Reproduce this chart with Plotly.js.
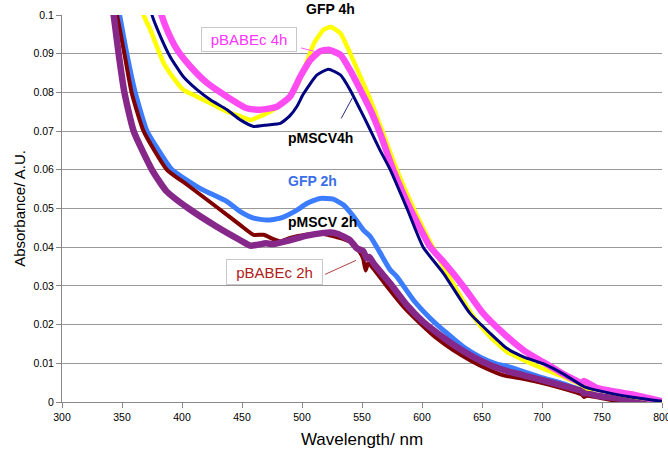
<!DOCTYPE html>
<html>
<head>
<meta charset="utf-8">
<script src="https://cdn.plot.ly/plotly-3.0.1.min.js"></script>
<style>html,body{margin:0;padding:0;background:#fff;}#chart{width:668px;height:451px;}</style>
</head>
<body>
<div id="chart"></div>
<script>
// ---- Data (wavelength nm, absorbance A.U.) ----
var gfp4hX = [366, 368, 373.6, 379, 384.7, 393, 401, 412.5, 423.6, 437.5, 448.6, 457, 465, 476, 487.5, 496, 502, 510, 518, 524, 532, 540, 548.6, 557, 565, 579, 593, 607, 621, 643, 657, 665, 671, 685, 701, 718, 732, 735, 737, 746, 774, 800];
var gfp4hY = [0.1045, 0.1, 0.0962, 0.0919, 0.0876, 0.0837, 0.0807, 0.0789, 0.0772, 0.075, 0.0738, 0.0729, 0.0738, 0.0755, 0.0781, 0.0818, 0.0862, 0.0927, 0.0962, 0.0969, 0.0953, 0.0902, 0.0841, 0.0781, 0.0716, 0.06, 0.05, 0.0412, 0.0332, 0.022, 0.0168, 0.0145, 0.0129, 0.0108, 0.0086, 0.0065, 0.0045, 0.0040, 0.0036, 0.0032, 0.0015, 0.0002];

var pbabec4hX = [380, 383, 387.5, 396, 407, 421, 437.5, 454, 465, 479, 490, 498.6, 507, 515, 522, 532, 540, 548.6, 557, 565, 576, 590, 607, 618, 634.7, 651, 668, 685, 701, 718, 733, 735, 746, 774, 800];
var pbabec4hY = [0.1045, 0.1, 0.0962, 0.091, 0.0867, 0.0824, 0.0789, 0.0759, 0.0755, 0.0763, 0.0789, 0.0841, 0.0884, 0.0906, 0.091, 0.0897, 0.0858, 0.0807, 0.0755, 0.0695, 0.06, 0.05, 0.04, 0.0362, 0.0298, 0.0229, 0.0177, 0.0133, 0.0103, 0.0072, 0.0050, 0.0054, 0.0036, 0.0020, 0.0002];

var pmscv4hX = [372, 375, 382, 390, 401, 412.5, 423.6, 437.5, 448.6, 459.7, 471, 482, 490, 496, 501, 512.5, 522, 532, 540, 548.6, 555.5, 565, 573.6, 587.5, 601, 618, 640, 657, 671, 685, 701, 718, 732, 735, 746, 774, 800];
var pmscv4hY = [0.1045, 0.1, 0.0945, 0.0893, 0.0841, 0.0807, 0.0781, 0.0755, 0.0729, 0.0712, 0.0716, 0.072, 0.0740, 0.0765, 0.0795, 0.0845, 0.086, 0.0845, 0.0807, 0.0755, 0.0712, 0.0651, 0.06, 0.05, 0.04, 0.0332, 0.0229, 0.0177, 0.0138, 0.0116, 0.0099, 0.0072, 0.0045, 0.0040, 0.0030, 0.0013, 0.0002];

var gfp2hX = [346, 348, 354, 361, 370.8, 382, 391.7, 415, 437.5, 448.6, 459.7, 470.8, 482, 495.8, 504, 515, 526, 534.7, 543, 551, 557, 565, 573.6, 579, 593, 607, 621, 634.7, 648.6, 662.5, 671, 685, 700, 715, 730, 735, 746, 774, 800];
var gfp2hY = [0.1035, 0.1, 0.09, 0.08, 0.07, 0.0643, 0.06, 0.0552, 0.0518, 0.0492, 0.0475, 0.047, 0.0475, 0.0496, 0.0513, 0.0526, 0.0524, 0.0509, 0.0479, 0.0445, 0.0427, 0.0386, 0.0341, 0.0324, 0.0263, 0.0216, 0.0177, 0.0142, 0.0116, 0.0098, 0.0092, 0.0078, 0.0063, 0.0050, 0.0034, 0.0030, 0.0016, 0.0007, 0.0];

var pbabec2hX = [342, 345.8, 352, 358, 368, 387.5, 404, 430.5, 448.6, 459.7, 468, 476, 482, 490, 504, 518, 524, 530, 540, 548, 551, 553, 555, 557, 571, 584.7, 598.6, 612.5, 626, 640, 654, 668, 682, 696, 712.5, 729, 733, 735, 737, 746, 760, 800];
var pbabec2hY = [0.1045, 0.1, 0.09, 0.08, 0.07, 0.06, 0.0562, 0.05, 0.0457, 0.0432, 0.0432, 0.0421, 0.0415, 0.0424, 0.0432, 0.0434, 0.0430, 0.0425, 0.0414, 0.0388, 0.0370, 0.0340, 0.0358, 0.0354, 0.0298, 0.0246, 0.0203, 0.0164, 0.0134, 0.0108, 0.0086, 0.0069, 0.0061, 0.0052, 0.0039, 0.0024, 0.0020, 0.0013, 0.0016, 0.0012, 0.0004, 0.0];

var pmscv2hX = [340, 343, 347.2, 352, 359.7, 375, 387, 405.5, 429, 448.6, 457, 462.5, 470, 476, 490, 504, 518, 524, 530, 534.7, 540, 545.8, 551, 554, 556, 559.7, 573.6, 587.5, 601, 615, 629, 643, 657, 671, 684.7, 698.6, 712.5, 729, 733, 735, 737, 746, 774, 800];
var pmscv2hY = [0.1045, 0.1, 0.09, 0.08, 0.07, 0.06, 0.0545, 0.05, 0.0453, 0.0418, 0.0404, 0.0406, 0.0410, 0.0408, 0.0418, 0.0430, 0.0437, 0.0438, 0.0434, 0.0427, 0.0418, 0.0397, 0.0390, 0.0371, 0.0375, 0.0358, 0.0306, 0.025, 0.0207, 0.0173, 0.0142, 0.0116, 0.0095, 0.008, 0.0069, 0.0058, 0.0046, 0.0032, 0.0030, 0.0022, 0.0024, 0.0016, 0.0006, 0.0];

var seriesNames = ['GFP 4h', 'pBABEc 4h', 'pMSCV4h', 'GFP 2h', 'pBABEc 2h', 'pMSCV 2h'];
var xTitle = 'Wavelength/ nm';
var yTitle = 'Absorbance/ A.U.';

var FONT = 'Liberation Sans, Arial, sans-serif';
function line(x, y, name, color, w) {
  return {x: x, y: y, name: name, type: 'scatter', mode: 'lines',
          line: {color: color, width: w, shape: 'spline', smoothing: 0.5}, hoverinfo: 'skip'};
}
var traces = [
  line(gfp2hX, gfp2hY, seriesNames[3], '#3c7cff', 5),
  line(pbabec2hX, pbabec2hY, seriesNames[4], '#800000', 4),
  line(pmscv2hX, pmscv2hY, seriesNames[5], '#86288a', 6.5),
  line(gfp4hX, gfp4hY, seriesNames[0], '#ffff00', 4.5),
  line(pbabec4hX, pbabec4hY, seriesNames[1], '#ff4cf2', 6.5),
  line(pmscv4hX, pmscv4hY, seriesNames[2], '#000080', 3)
];

var layout = {
  width: 668, height: 451,
  margin: {l: 62, r: 6, t: 15, b: 49},
  paper_bgcolor: '#fff', plot_bgcolor: '#fff',
  showlegend: false,
  font: {family: FONT, color: '#000', size: 11},
  xaxis: {
    range: [300, 800], dtick: 50, tick0: 300,
    showgrid: false, zeroline: false,
    showline: true, linecolor: '#888', linewidth: 1,
    ticks: 'outside', ticklen: 5, tickcolor: '#888',
    ticklabeloverflow: 'allow',
    tickfont: {size: 10.5, family: FONT, color: '#000'},
    title: {text: xTitle, font: {size: 17, family: FONT, color: '#000'}, standoff: 11}
  },
  yaxis: {
    range: [0, 0.1], dtick: 0.01, tick0: 0,
    showgrid: true, gridcolor: '#999', gridwidth: 1, zeroline: false,
    showline: true, linecolor: '#888', linewidth: 1,
    ticks: 'outside', ticklen: 5, tickcolor: '#888',
    ticklabeloverflow: 'allow',
    tickfont: {size: 10.5, family: FONT, color: '#000'},
    title: {text: yTitle, font: {size: 15, family: FONT, color: '#000'}, standoff: 4}
  },
  annotations: [
    {text: '<b>GFP 4h</b>', x: 524, y: 1.016, xref: 'x', yref: 'paper', yanchor: 'middle', showarrow: false,
     font: {size: 14, color: '#000', family: FONT}},
    {text: 'pBABEc 4h', x: 456, y: 0.0937, xref: 'x', yref: 'y', showarrow: false,
     font: {size: 15, color: '#ff33ff', family: FONT},
     bgcolor: '#fff', bordercolor: '#c8c8c8', borderwidth: 1, borderpad: 1, width: 92, height: 21},
    {text: '', x: 515, y: 0.0902, xref: 'x', yref: 'y', ax: 498, ay: 0.0916, axref: 'x', ayref: 'y',
     showarrow: true, arrowhead: 0, arrowwidth: 1, arrowcolor: '#ff55ff'},
    {text: '<b>pMSCV4h</b>', x: 515, y: 0.0682, xref: 'x', yref: 'y', showarrow: false,
     font: {size: 14, color: '#000', family: FONT}},
    {text: '', x: 542, y: 0.0786, xref: 'x', yref: 'y', ax: 532, ay: 0.0729, axref: 'x', ayref: 'y',
     showarrow: true, arrowhead: 0, arrowwidth: 1, arrowcolor: '#2a2a80'},
    {text: '<b>GFP 2h</b>', x: 509, y: 0.0571, xref: 'x', yref: 'y', showarrow: false,
     font: {size: 14, color: '#3c6ee8', family: FONT}},
    {text: '<b>pMSCV 2h</b>', x: 517, y: 0.0466, xref: 'x', yref: 'y', showarrow: false,
     font: {size: 14, color: '#000', family: FONT}},
    {text: 'pBABEc 2h', x: 477, y: 0.0336, xref: 'x', yref: 'y', showarrow: false,
     font: {size: 15, color: '#b02020', family: FONT},
     bgcolor: '#fff', bordercolor: '#c8c8c8', borderwidth: 1, borderpad: 1, width: 93, height: 22},
    {text: '', x: 545, y: 0.0366, xref: 'x', yref: 'y', ax: 518, ay: 0.0328, axref: 'x', ayref: 'y',
     showarrow: true, arrowhead: 0, arrowwidth: 1, arrowcolor: '#b04040'}
  ]
};

Plotly.newPlot('chart', traces, layout, {staticPlot: true, displayModeBar: false});
</script>
</body>
</html>
